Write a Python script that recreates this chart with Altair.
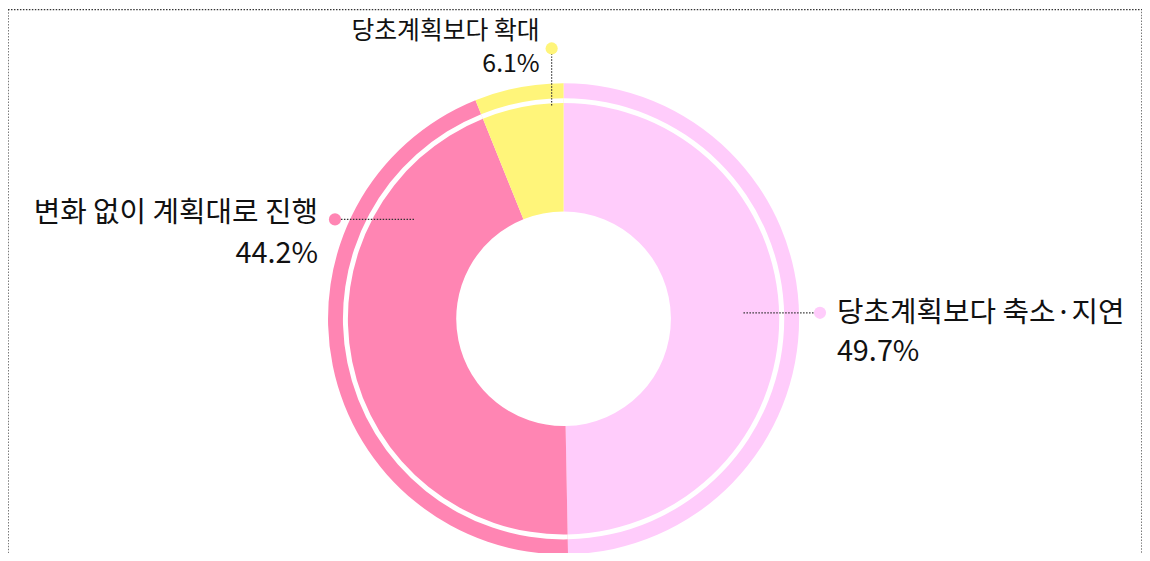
import altair as alt
import pandas as pd

categories = ["당초계획보다 축소·지연", "변화 없이 계획대로 진행", "당초계획보다 확대"]
shares = [49.7, 44.2, 6.1]
slice_order = [0, 1, 2]
colors = ["#FFCCFB", "#FF85B3", "#FFF57A"]

df = pd.DataFrame({"category": categories, "share": shares, "ord": slice_order})
base = alt.Chart(df)

CX, CY = 559, 311
FONT = "Noto Sans CJK KR"
color_scale = alt.Scale(domain=categories, range=colors)

theta = alt.Theta("share:Q", stack=True)
order = alt.Order("ord:Q")

donut = base.mark_arc(outerRadius=237, innerRadius=108).encode(
    theta=theta, order=order,
    color=alt.Color("category:N", scale=color_scale, legend=None),
    x=alt.value(CX), y=alt.value(CY),
)
ring = base.mark_arc(outerRadius=222, innerRadius=217, color="white").encode(
    theta=theta, order=order, x=alt.value(CX), y=alt.value(CY),
)

border = base.transform_filter(alt.datum.ord == 0).mark_rect(
    filled=False, stroke="#333333", strokeWidth=1.3, strokeDash=[1.5, 1.5]
).encode(x=alt.value(0), x2=alt.value(1141), y=alt.value(0), y2=alt.value(700))


def annotation(idx, dot, rule, line1, line2, align, fs):
    sub = base.transform_filter(alt.datum.ord == idx).transform_calculate(
        pct="format(datum.share, '.1f') + '%'"
    )
    layers = []
    if rule[0] == "h":
        layers.append(sub.mark_rule(color="#333333", strokeWidth=1.2, strokeDash=[1.5, 1.5]).encode(
            x=alt.value(rule[1]), x2=alt.value(rule[2]), y=alt.value(rule[3])))
    else:
        layers.append(sub.mark_rule(color="#333333", strokeWidth=1.2, strokeDash=[1.5, 1.5]).encode(
            x=alt.value(rule[1]), y=alt.value(rule[2]), y2=alt.value(rule[3])))
    layers.append(sub.mark_circle(size=150, opacity=1).encode(
        x=alt.value(dot[0]), y=alt.value(dot[1]),
        color=alt.Color("category:N", scale=color_scale, legend=None)))
    layers.append(sub.mark_text(font=FONT, fontSize=fs, fontWeight="normal", color="#111111",
                                align=align, baseline="alphabetic").encode(
        text="category:N", x=alt.value(line1[0]), y=alt.value(line1[1])))
    layers.append(sub.mark_text(font=FONT, fontSize=fs, fontWeight="normal", color="#111111",
                                align=align, baseline="alphabetic").encode(
        text="pct:N", x=alt.value(line2[0]), y=alt.value(line2[1])))
    return layers


ann = []
ann += annotation(0, (817, 305), ("h", 740, 812, 305), (834, 314), (834, 353), "left", 29)
ann += annotation(1, (329, 211), ("h", 335, 409, 211), (312, 214), (312, 255), "right", 29)
ann += annotation(2, (547, 39), ("v", 547, 44, 97), (535, 30), (535, 63), "right", 25)

chart = alt.layer(donut, ring, border, *ann).properties(
    width=1141, height=545, padding=0,
    autosize=alt.AutoSizeParams(type="none"),
).configure_view(strokeWidth=0)

chart.save("out.html", embed_options={"renderer": "svg", "actions": False})
